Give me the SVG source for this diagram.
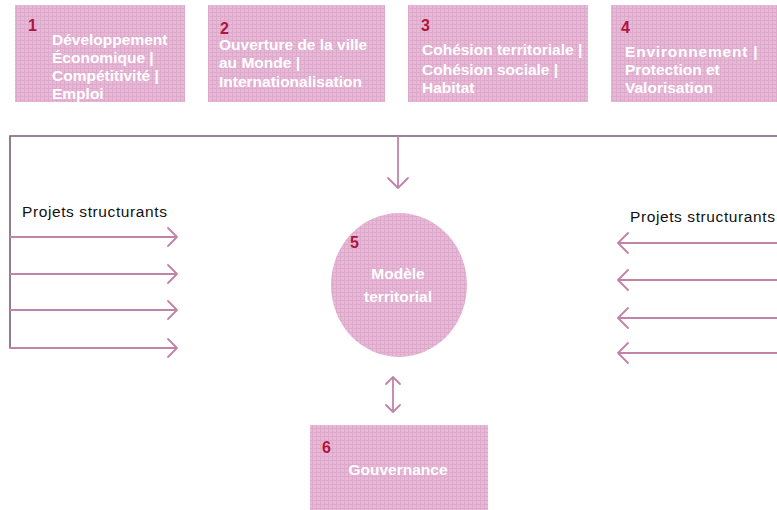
<svg xmlns="http://www.w3.org/2000/svg" width="777" height="510" viewBox="0 0 777 510">
<style>
.box{fill:url(#grid);}
.num{font-family:"Liberation Sans",Arial,sans-serif;font-size:16px;font-weight:bold;fill:#b0153c;}
.lbl{font-family:"Liberation Sans",Arial,sans-serif;font-size:15.5px;font-weight:bold;fill:#ffffff;}
.ps{font-family:"Liberation Sans",Arial,sans-serif;font-size:15.5px;fill:#111111;letter-spacing:0.6px;}
.frame{fill:none;stroke:#7a5a70;stroke-width:1.6;}
.arr{fill:none;stroke:#c283a9;stroke-width:1.8;stroke-linecap:round;stroke-linejoin:round;}
</style>
<defs>
<pattern id="grid" width="4" height="4" patternUnits="userSpaceOnUse">
<rect width="4" height="4" fill="#e8b8d7"/>
<path d="M0 0.5H4M0.5 0V4" stroke="#d6a0c4" stroke-width="1" opacity="0.6"/>
</pattern>
</defs>
<rect width="777" height="510" fill="#ffffff"/>
<g id="connectors">
<path class="frame" d="M10 348V136H777"/>
<path class="arr" d="M398 137V188M388 178L398 188L408 178"/>
<path class="arr" d="M10 237H176M168 228L177 237L168 246"/>
<path class="arr" d="M10 274H176M168 265L177 274L168 283"/>
<path class="arr" d="M10 310H176M168 301L177 310L168 319"/>
<path class="arr" d="M10 348H176M168 339L177 348L168 357"/>
<path class="arr" d="M777 243H619M628 233L618 243L628 253"/>
<path class="arr" d="M777 280H619M628 270L618 280L628 290"/>
<path class="arr" d="M777 318H619M628 308L618 318L628 328"/>
<path class="arr" d="M777 353H619M628 343L618 353L628 363"/>
<path class="arr" d="M393 377V412M386 384L393 377L400 384M386 405L393 412L400 405"/>
</g>
<g id="n1">
<rect class="box" x="15" y="5" width="170" height="97"/>
<text class="num" x="28" y="31">1</text>
<text class="lbl" x="52" y="45">Développement</text>
<text class="lbl" x="52" y="63">Économique |</text>
<text class="lbl" x="52" y="81">Compétitivité |</text>
<text class="lbl" x="52" y="99">Emploi</text>
</g>
<g id="n2">
<rect class="box" x="208" y="5" width="177" height="97"/>
<text class="num" x="220" y="34">2</text>
<text class="lbl" x="219" y="50">Ouverture de la ville</text>
<text class="lbl" x="219" y="68">au Monde |</text>
<text class="lbl" x="219" y="87">Internationalisation</text>
</g>
<g id="n3">
<rect class="box" x="408" y="5" width="180" height="97"/>
<text class="num" x="421" y="31">3</text>
<text class="lbl" x="422" y="55">Cohésion territoriale |</text>
<text class="lbl" x="422" y="75">Cohésion sociale |</text>
<text class="lbl" x="422" y="93">Habitat</text>
</g>
<g id="n4">
<rect class="box" x="611" y="5" width="166" height="97"/>
<text class="num" x="621" y="33">4</text>
<text class="lbl" x="625" y="57" letter-spacing="0.8">Environnement |</text>
<text class="lbl" x="625" y="75">Protection et</text>
<text class="lbl" x="625" y="93">Valorisation</text>
</g>
<g id="n5">
<ellipse cx="399" cy="285" rx="68" ry="72" fill="url(#grid)"/>
<text class="num" x="350" y="248">5</text>
<text class="lbl" x="398" y="279" text-anchor="middle">Modèle</text>
<text class="lbl" x="398" y="302" text-anchor="middle">territorial</text>
</g>
<g id="n6">
<rect class="box" x="310" y="425" width="178" height="85"/>
<text class="num" x="322" y="453">6</text>
<text class="lbl" x="398" y="475" text-anchor="middle">Gouvernance</text>
</g>
<g id="labels">
<text class="ps" x="22" y="217">Projets structurants</text>
<text class="ps" x="630" y="222">Projets structurants</text>
</g>
</svg>
